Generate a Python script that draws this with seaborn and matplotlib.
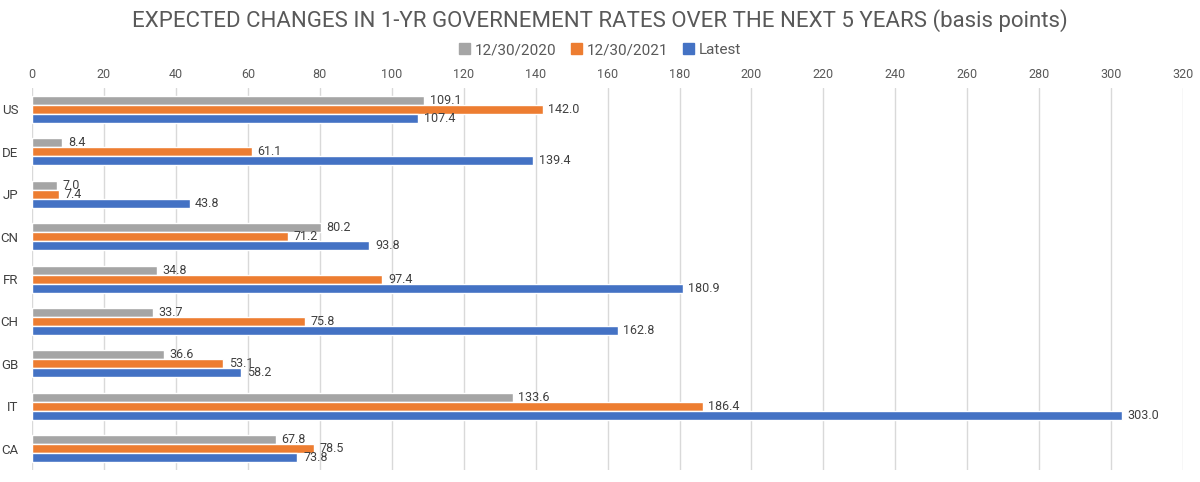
import matplotlib
matplotlib.use("Agg")
import matplotlib.pyplot as plt
import seaborn as sns
import pandas as pd
from matplotlib.patches import Patch

countries = ["US", "DE", "JP", "CN", "FR", "CH", "GB", "IT", "CA"]
series_names = ["12/30/2020", "12/30/2021", "Latest"]
v2020 = [109.1, 8.4, 7.0, 80.2, 34.8, 33.7, 36.6, 133.6, 67.8]
v2021 = [142.0, 61.1, 7.4, 71.2, 97.4, 75.8, 53.1, 186.4, 78.5]
latest = [107.4, 139.4, 43.8, 93.8, 180.9, 162.8, 58.2, 303.0, 73.8]
xticks = list(range(0, 321, 20))
colors = ["#A5A5A5", "#ED7D31", "#4472C4"]

rows = []
for name, vals in zip(series_names, [v2020, v2021, latest]):
    for c, v in zip(countries, vals):
        rows.append({"country": c, "series": name, "value": v})
df = pd.DataFrame(rows)

sns.set_theme(style="white")
plt.rcParams['font.family'] = ['Roboto', 'DejaVu Sans']

fig = plt.figure(figsize=(12, 4.82), dpi=100)
ax = fig.add_axes([0.0267, 0.025, 0.9592, 0.792])

sns.barplot(data=df, y="country", x="value", hue="series", order=countries,
            hue_order=series_names, palette=colors, orient="h", width=0.64,
            saturation=1, ax=ax, legend=False)

for cont in ax.containers:
    ax.bar_label(cont, fmt="%.1f", padding=4, fontsize=9, color="#404040")

ax.set_xlim(0, 320)
ax.set_xticks(xticks)
ax.xaxis.tick_top()
ax.tick_params(axis="x", length=0, labelsize=9, colors="#595959", pad=5)
ax.tick_params(axis="y", length=0, labelsize=9.5, colors="#404040", pad=10)
ax.set_xlabel("")
ax.set_ylabel("")
ax.grid(axis="x", color="#D9D9D9", linewidth=1)
ax.set_axisbelow(True)
for s in ax.spines.values():
    s.set_visible(False)

handles = [Patch(facecolor=c, edgecolor=c) for c in colors]
fig.legend(handles, series_names, loc="center", bbox_to_anchor=(0.5, 0.896), ncol=3,
           frameon=False, fontsize=11, handlelength=0.7, handleheight=0.7,
           handletextpad=0.3, columnspacing=1.0, labelcolor="#595959")

fig.text(0.5, 0.957, "EXPECTED CHANGES IN 1-YR GOVERNEMENT RATES OVER THE NEXT 5 YEARS (basis points)",
         ha="center", va="center", fontsize=16, color="#595959")

fig.savefig("out.png", dpi=100)
